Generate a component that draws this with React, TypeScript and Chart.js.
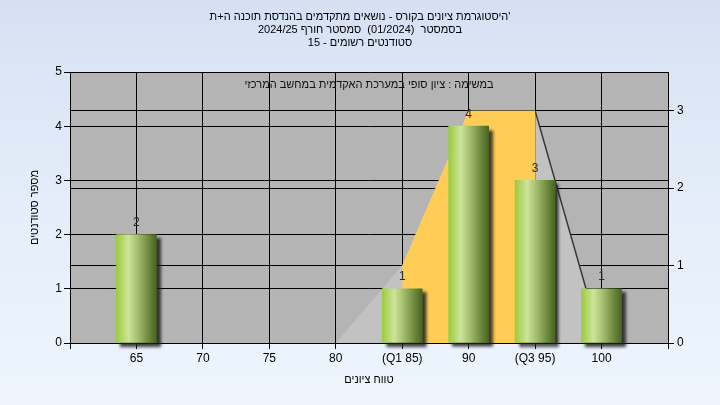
import React, { useEffect, useRef } from 'react';
import { Chart, registerables } from 'chart.js';

Chart.register(...registerables);

const titleLines = [
  "'היסטוגרמת ציונים בקורס - נושאים מתקדמים בהנדסת תוכנה ה+ת",
  'בסמסטר  (01/2024)  סמסטר חורף 2024/25',
  'סטודנטים רשומים - 15',
];
const plotNote = 'במשימה : ציון סופי במערכת האקדמית במחשב המרכזי';
const yAxisTitle = 'מספר סטודנטים';
const xAxisTitle = 'טווח ציונים';

const xTickValues = [65, 70, 75, 80, 85, 90, 95, 100];
const xTickLabels = ['65', '70', '75', '80', '(Q1 85)', '90', '(Q3 95)', '100'];

const barGrades = [65, 85, 90, 95, 100];
const barCounts = [2, 1, 4, 3, 1];

const spreadGrades = [80, 85, 90, 95, 100];
const spreadValues = [0, 1, 3, 3, 0];

const quartileGrades = [85, 90, 95];
const quartileValues = [1, 3, 3];

const FONT = "'Liberation Sans', Arial, 'DejaVu Sans', sans-serif";

export default function App() {
  const ref = useRef<HTMLCanvasElement | null>(null);

  useEffect(() => {
    const canvas = ref.current;
    if (!canvas) return;

    const plotBg = {
      id: 'plotBg',
      beforeDraw(chart: any) {
        const { ctx, chartArea } = chart;
        if (!chartArea) return;
        ctx.save();
        ctx.fillStyle = '#b4b4b4';
        ctx.fillRect(chartArea.left, chartArea.top, chartArea.right - chartArea.left, chartArea.bottom - chartArea.top);
        ctx.restore();
      },
    };

    const barShadow = {
      id: 'barShadow',
      beforeDatasetDraw(chart: any, args: any) {
        if (args.index !== 0) return;
        const ctx = chart.ctx;
        ctx.save();
        ctx.shadowColor = 'rgba(30,30,30,0.85)';
        ctx.shadowOffsetX = 4;
        ctx.shadowOffsetY = 4;
        ctx.shadowBlur = 3;
      },
      afterDatasetDraw(chart: any, args: any) {
        if (args.index !== 0) return;
        chart.ctx.restore();
      },
    };

    const labelsAndNote = {
      id: 'labelsAndNote',
      afterDatasetsDraw(chart: any) {
        const { ctx, chartArea } = chart;
        const meta = chart.getDatasetMeta(0);
        ctx.save();
        ctx.font = `12px ${FONT}`;
        ctx.fillStyle = '#2a2a2a';
        ctx.textAlign = 'center';
        ctx.textBaseline = 'middle';
        meta.data.forEach((el: any, i: number) => {
          ctx.fillText(String(barCounts[i]), el.x, el.y - 12);
        });
        ctx.font = `11px ${FONT}`;
        ctx.fillStyle = '#111';
        ctx.fillText(plotNote, (chartArea.left + chartArea.right) / 2, chartArea.top + 13);
        ctx.restore();
      },
    };

    const chart = new Chart(canvas, {
      type: 'bar',
      data: {
        datasets: [
          {
            type: 'bar',
            data: barGrades.map((g, i) => ({ x: g, y: barCounts[i] })),
            yAxisID: 'y',
            barThickness: 40,
            borderWidth: 0,
            clip: false as any,
            order: 0,
            backgroundColor: (c: any) => {
              const chart = c.chart;
              const xs = chart.scales && chart.scales.x;
              if (!xs || !c.raw) return '#9cc840';
              const cx = xs.getPixelForValue(c.raw.x);
              if (!Number.isFinite(cx)) return '#9cc840';
              const g = chart.ctx.createLinearGradient(cx - 20, 0, cx + 20, 0);
              g.addColorStop(0, '#9ccb3e');
              g.addColorStop(0.3, '#cde49a');
              g.addColorStop(0.55, '#a0ba6c');
              g.addColorStop(0.8, '#6d8a3e');
              g.addColorStop(1, '#4a6322');
              return g;
            },
          } as any,
          {
            type: 'line',
            data: quartileGrades.map((g, i) => ({ x: g, y: quartileValues[i] })),
            yAxisID: 'y2',
            fill: 'origin',
            backgroundColor: '#ffcc55',
            borderWidth: 0,
            borderColor: 'rgba(0,0,0,0)',
            pointRadius: 0,
            tension: 0,
            order: 1,
          } as any,
          {
            type: 'line',
            data: spreadGrades.map((g, i) => ({ x: g, y: spreadValues[i] })),
            yAxisID: 'y2',
            fill: 'origin',
            backgroundColor: '#c2c2c2',
            borderWidth: 1.5,
            borderColor: 'rgba(0,0,0,0)',
            segment: {
              borderColor: (s: any) => (s.p0DataIndex === 3 ? '#3a3a3a' : 'rgba(0,0,0,0)'),
            },
            pointRadius: 0,
            tension: 0,
            order: 2,
          } as any,
        ],
      },
      options: {
        responsive: false,
        devicePixelRatio: 1,
        animation: false,
        layout: { padding: { left: 0, right: 0, top: 0, bottom: 0 } },
        plugins: {
          legend: { display: false },
          tooltip: { enabled: false },
          title: {
            display: true,
            text: titleLines,
            color: '#000',
            font: { family: FONT, size: 11, weight: 'normal', lineHeight: '13px' } as any,
            padding: { top: 10.5, bottom: 22.5 },
          },
        },
        scales: {
          x: {
            type: 'linear',
            min: 60,
            max: 105,
            offset: false,
            ticks: {
              stepSize: 5,
              autoSkip: false,
              maxRotation: 0,
              color: '#000',
              padding: 2,
              font: { family: FONT, size: 12 },
              callback: (v: any) => {
                const i = xTickValues.indexOf(Number(v));
                return i >= 0 ? xTickLabels[i] : '';
              },
            },
            grid: { color: '#000', lineWidth: 1, tickLength: 6, offset: false, tickColor: '#000' },
            border: { color: '#000' },
            title: {
              display: true,
              text: xAxisTitle,
              color: '#000',
              font: { family: FONT, size: 11 },
              padding: { top: 0, bottom: 18 },
            },
            afterFit: (s: any) => {
              s.height = 62;
            },
          } as any,
          y: {
            type: 'linear',
            position: 'left',
            min: 0,
            max: 5,
            ticks: { stepSize: 1, color: '#000', padding: 2, font: { family: FONT, size: 12 } },
            grid: { color: '#000', lineWidth: 1, tickLength: 6, tickColor: '#000' },
            border: { color: '#000' },
            title: {
              display: true,
              text: yAxisTitle,
              color: '#000',
              font: { family: FONT, size: 11 },
              padding: { top: 28, bottom: 0 },
            },
            afterFit: (s: any) => {
              s.width = 70;
            },
          } as any,
          y2: {
            type: 'linear',
            position: 'right',
            min: 0,
            max: 3.5,
            ticks: { stepSize: 1, includeBounds: false, color: '#000', padding: 3, font: { family: FONT, size: 12 } },
            grid: { color: '#000', lineWidth: 1, tickLength: 6, tickColor: '#000', drawOnChartArea: true },
            border: { color: '#000' },
            afterFit: (s: any) => {
              s.width = 52;
            },
          } as any,
        },
      },
      plugins: [plotBg, barShadow, labelsAndNote],
    } as any);

    return () => chart.destroy();
  }, []);

  return (
    <div
      style={{
        position: 'fixed',
        left: 0,
        top: 0,
        width: 720,
        height: 405,
        background: 'linear-gradient(180deg, #d5e1f3 0%, #e4edf9 50%, #eef5fd 100%)',
      }}
    >
      <canvas ref={ref} width={720} height={405} dir="rtl" style={{ display: 'block', width: 720, height: 405 }} />
    </div>
  );
}
